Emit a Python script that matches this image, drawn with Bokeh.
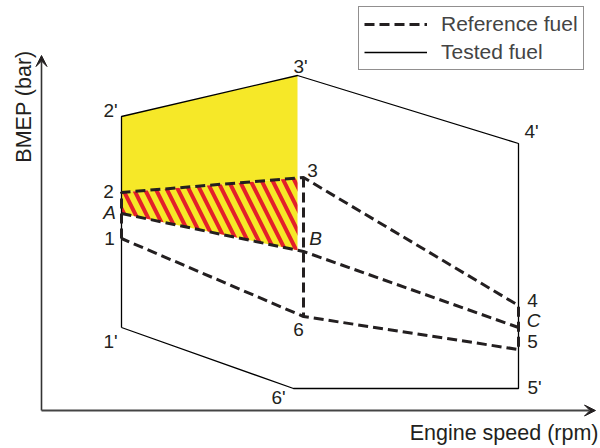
import numpy as np
from bokeh.plotting import figure
from bokeh.models import Range1d, Arrow, VeeHead, Legend, LegendItem, ColumnDataSource
from bokeh.core.properties import value
from bokeh.embed import file_html
from bokeh.resources import INLINE

# ---- data (schematic units, origin at the axes corner) ----
# Tested fuel envelope: 1', 2', 3', 4', 5', 6'
tested_x = [80, 80, 256, 477, 477, 252]
tested_y = [83, 294, 335, 267, 22, 22]
# Reference fuel envelope: 1, 2, 3, 4, 5, 6
ref_x = [80, 80, 262, 477, 477, 262]
ref_y = [172, 218, 233, 105, 61, 94]
# Line A-B-C
abc_x = [80, 262, 477]
abc_y = [197, 159, 83]

# Point labels
lab_text = ["2'", "3'", "4'", "5'", "6'", "1'", "2", "A", "1", "3", "B", "6", "4", "C", "5"]
lab_x = [69, 259, 490, 493, 237, 69, 67, 68, 68, 271, 274, 257, 491, 492, 491]
lab_y = [300, 344, 279, 23, 13, 69, 219, 198, 172, 240, 172, 81, 110, 90, 69]
lab_style = ["normal"] * 7 + ["italic"] + ["normal"] * 2 + ["italic"] + ["normal"] * 2 + ["italic", "normal"]

# axes extents
x_axis_end = 554
y_axis_end = 355

FONT = "Liberation Sans"
YELLOW = "#f6e828"
RED = "#e3202a"
DASH_COL = "#231f20"

p = figure(width=600, height=448, output_backend="svg", toolbar_location=None,
           x_range=Range1d(-41, 559), y_range=Range1d(-38, 410),
           x_axis_location=None, y_axis_location=None, min_border=0)
p.grid.visible = False
p.outline_line_color = None

# shaded regions derived from the data
xr = tested_x[2]  # x of 3'
y_23 = np.interp(xr, [ref_x[1], ref_x[2]], [ref_y[1], ref_y[2]])
y_ab = np.interp(xr, abc_x[:2], abc_y[:2])
yellow_x = [tested_x[1], tested_x[2], xr, ref_x[1]]
yellow_y = [tested_y[1], tested_y[2], y_23, ref_y[1]]
hatch_x = [ref_x[1], xr, xr, abc_x[0]]
hatch_y = [ref_y[1], y_23, y_ab, abc_y[0]]

p.patch(yellow_x, yellow_y, fill_color=YELLOW, line_color=None)
p.patch(hatch_x, hatch_y, fill_color=YELLOW, line_color=None,
        hatch_pattern="\\", hatch_color=RED, hatch_scale=22, hatch_weight=4)

test_r = p.line(tested_x + [tested_x[0]], tested_y + [tested_y[0]],
                line_color="black", line_width=1.3)
ref_r = p.line(ref_x + [ref_x[0]], ref_y + [ref_y[0]], line_color=DASH_COL,
               line_width=3, line_dash="10 5")
p.line([ref_x[2], ref_x[5]], [ref_y[2], ref_y[5]], line_color=DASH_COL,
       line_width=3, line_dash="10 5")
p.line(abc_x, abc_y, line_color=DASH_COL, line_width=3, line_dash="10 5")

src = ColumnDataSource(dict(x=lab_x, y=lab_y, t=lab_text, s=lab_style))
p.text(x="x", y="y", text="t", source=src, text_font=value(FONT), text_font_size=value("19px"),
       text_font_style="s", text_align="center", text_baseline="middle", text_color="#231f20")

# axes as arrows
p.add_layout(Arrow(end=VeeHead(size=11, fill_color="#231f20", line_color="#231f20"),
                   x_start=0, y_start=0, x_end=0, y_end=y_axis_end,
                   line_color="#333333", line_width=1.6))
p.add_layout(Arrow(end=VeeHead(size=11, fill_color="#231f20", line_color="#231f20"),
                   x_start=0, y_start=0, x_end=x_axis_end, y_end=0,
                   line_color="#444444", line_width=2.2))

p.text(x=[-18], y=[304], text=["BMEP (bar)"], angle=np.pi / 2, text_font=value(FONT),
       text_font_size=value("21.5px"), text_align="center", text_baseline="middle", text_color="#231f20")
p.text(x=[557], y=[-22], text=["Engine speed (rpm)"], text_font=value(FONT),
       text_font_size=value("21.5px"), text_align="right", text_baseline="middle", text_color="#231f20")

legend = Legend(items=[LegendItem(label="Reference fuel", renderers=[ref_r]),
                       LegendItem(label="Tested fuel", renderers=[test_r])],
                location=(358, 378), border_line_color="#231f20", border_line_width=1.3,
                padding=5, spacing=4, glyph_width=63, glyph_height=20, label_standoff=14,
                label_text_font=FONT, label_text_font_size="21px", margin=0,
                background_fill_alpha=1)
p.add_layout(legend)

open("out.html", "w").write(file_html(p, INLINE))
